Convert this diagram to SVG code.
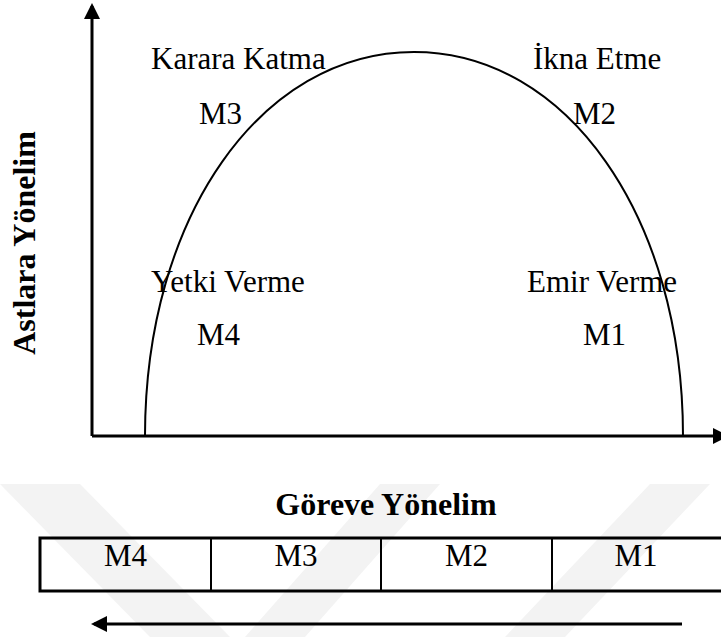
<svg xmlns="http://www.w3.org/2000/svg" width="721" height="637" viewBox="0 0 721 637">
<style>
.lbl{font-family:"Liberation Serif","Times New Roman",serif;font-size:31px;fill:#000}
.bold{font-family:"Liberation Serif","Times New Roman",serif;font-size:32px;font-weight:bold;fill:#000}
.axis{stroke:#000;stroke-width:3;fill:none}
.wm{fill:#f3f3f3}
</style>
<defs>
<marker id="ah" viewBox="0 0 16 16" refX="13" refY="8" markerWidth="16" markerHeight="16" markerUnits="userSpaceOnUse" orient="auto">
<path d="M0,0 L16,8 L0,16 z" fill="#000"/>
</marker>
</defs>
<rect width="721" height="637" fill="#fff"/>
<g id="watermark">
<polygon class="wm" points="0,484 80,484 230,637 150,637"/>
<polygon class="wm" points="380,484 440,484 305,637 245,637"/>
<polygon class="wm" points="650,484 710,484 565,637 505,637"/>
</g>
<g id="connectors">
<path class="axis" d="M92,436 V6" marker-end="url(#ah)"/>
<path class="axis" d="M92,436 H726" marker-end="url(#ah)"/>
<path class="axis" d="M682,624 H94" marker-end="url(#ah)"/>
<path id="curve" d="M145,436 C145,217 261,52 414,52 C567,52 683,217 683,436" fill="none" stroke="#000" stroke-width="2"/>
</g>
<g id="labels-y"><text class="bold" transform="translate(35,243) rotate(-90)" text-anchor="middle">Astlara Yönelim</text></g>
<g id="node-m3"><text class="lbl" x="151" y="69">Karara Katma</text><text class="lbl" x="199" y="124">M3</text></g>
<g id="node-m2"><text class="lbl" x="533" y="69">İkna Etme</text><text class="lbl" x="573" y="124">M2</text></g>
<g id="node-m4"><text class="lbl" x="151" y="292">Yetki Verme</text><text class="lbl" x="197" y="345">M4</text></g>
<g id="node-m1"><text class="lbl" x="527" y="292">Emir Verme</text><text class="lbl" x="583" y="345">M1</text></g>
<g id="labels-x"><text class="bold" x="386" y="515" text-anchor="middle">Göreve Yönelim</text></g>
<g id="table">
<rect x="40" y="538" width="684" height="53" fill="none" stroke="#000" stroke-width="3"/>
<line x1="211" y1="538" x2="211" y2="591" stroke="#000" stroke-width="2"/>
<line x1="381" y1="538" x2="381" y2="591" stroke="#000" stroke-width="2"/>
<line x1="552" y1="538" x2="552" y2="591" stroke="#000" stroke-width="2"/>
<text class="lbl" x="125.5" y="566" text-anchor="middle">M4</text>
<text class="lbl" x="296" y="566" text-anchor="middle">M3</text>
<text class="lbl" x="466.5" y="566" text-anchor="middle">M2</text>
<text class="lbl" x="636" y="566" text-anchor="middle">M1</text>
</g>
</svg>
